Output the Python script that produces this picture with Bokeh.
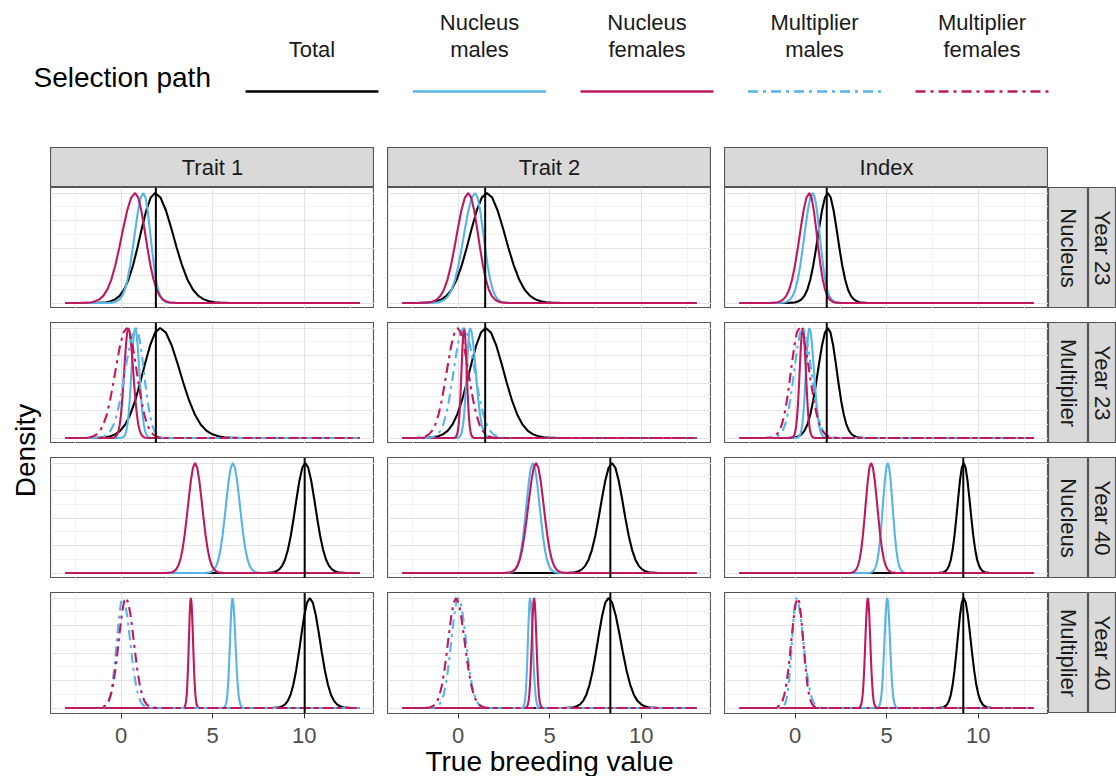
from bokeh.plotting import figure
from bokeh.layouts import row, column
from bokeh.models import FixedTicker, Span, Range1d, Spacer, Label
from bokeh.core.properties import value
from bokeh.embed import file_html
from bokeh.resources import INLINE
import math

# ---------------- data ----------------
TRAITS = ["Trait 1", "Trait 2", "Index"]
ROW_PATH = ["Nucleus", "Multiplier", "Nucleus", "Multiplier"]
ROW_YEAR = ["Year 23", "Year 23", "Year 40", "Year 40"]
PATHS = ["Total", "Nucleus males", "Nucleus females", "Multiplier males", "Multiplier females"]
XTICKS = [0, 5, 10]
XMINOR = [-2.5, 2.5, 7.5, 12.5]
YTICKS = [0, 0.25, 0.5, 0.75, 1.0]
YMINOR = [0.125, 0.375, 0.625, 0.875]
X_LO, X_HI = -3.05, 13.03          # range over which densities were evaluated

# scaled-density bell profile (offsets in half-widths at half maximum, heights)
PROFILE_U = [-3.5, -3.0, -2.75, -2.5, -2.25, -2.0, -1.75, -1.5, -1.25, -1.0, -0.75, -0.5, -0.25, 0.0,
             0.25, 0.5, 0.75, 1.0, 1.25, 1.5, 1.75, 2.0, 2.25, 2.5, 2.75, 3.0, 3.5]
PROFILE_Y = [0.0, 0.003, 0.007, 0.016, 0.033, 0.065, 0.121, 0.211, 0.339, 0.5, 0.677, 0.841, 0.958, 1.0,
             0.958, 0.841, 0.677, 0.5, 0.339, 0.211, 0.121, 0.065, 0.033, 0.016, 0.007, 0.003, 0.0]

# mean of total (vertical line), per year x trait
VLINE_Y23 = [1.90, 1.48, 1.73]
VLINE_Y40 = [10.02, 8.31, 9.18]

# peak position, left and right half-width; rows = panel rows, cols = traits
TOTAL_PEAK = [[1.86, 1.57, 1.79], [2.13, 1.51, 1.79], [10.05, 8.40, 9.20], [10.30, 8.21, 9.20]]
TOTAL_HWL = [[0.97, 1.10, 0.64], [1.09, 1.04, 0.64], [0.63, 0.73, 0.40], [0.60, 0.69, 0.40]]
TOTAL_HWR = [[1.18, 1.18, 0.63], [1.27, 1.15, 0.58], [0.65, 0.73, 0.42], [0.66, 0.79, 0.46]]

NUC_M_PEAK = [[1.22, 0.93, 0.97], [0.77, 0.66, 0.78], [6.10, 4.08, 5.06], [6.08, 3.93, 5.03]]
NUC_M_HWL = [[0.58, 0.73, 0.55], [0.24, 0.22, 0.22], [0.45, 0.42, 0.32], [0.16, 0.14, 0.18]]
NUC_M_HWR = [[0.46, 0.55, 0.45], [0.27, 0.36, 0.30], [0.46, 0.44, 0.31], [0.19, 0.17, 0.18]]

NUC_F_PEAK = [[0.77, 0.56, 0.78], [0.40, 0.33, 0.42], [4.04, 4.26, 4.15], [3.81, 4.15, 3.97]]
NUC_F_HWL = [[0.87, 0.76, 0.63], [0.27, 0.17, 0.20], [0.46, 0.51, 0.36], [0.13, 0.15, 0.16]]
NUC_F_HWR = [[0.67, 0.64, 0.49], [0.31, 0.17, 0.20], [0.46, 0.49, 0.40], [0.14, 0.15, 0.16]]

MULT_M_PEAK = [None, [0.82, 0.29, 0.42], None, [0.09, 0.02, 0.07]]
MULT_M_HWL = [None, [0.70, 0.63, 0.55], None, [0.38, 0.46, 0.28]]
MULT_M_HWR = [None, [0.50, 0.73, 0.55], None, [0.48, 0.49, 0.45]]

MULT_F_PEAK = [None, [0.31, -0.02, 0.24], None, [0.27, -0.11, 0.15]]
MULT_F_HWL = [None, [0.73, 0.70, 0.55], None, [0.47, 0.51, 0.42]]
MULT_F_HWR = [None, [0.64, 0.68, 0.63], None, [0.50, 0.55, 0.35]]

# ---------------- styles ----------------
FONT = "Liberation Sans"
BLUE = "#56B4E9"
MAGENTA = "#C0185E"
COLORS = ["#000000", BLUE, MAGENTA, BLUE, MAGENTA]
DASHES = ["solid", "solid", "solid", "10 5 3 5", "10 5 3 5"]
BORDER = "#555555"
STRIP_FILL = "#D9D9D9"

PW, PH = 324, 121       # panel frame size
HGAP, VGAP = 13, 14
STRIP_H = 40
LEFT_W = 50
RSTRIP_W, RSTRIP2_W = 40, 28
LEG_H = 147
XR = (-3.85, 13.83)
YR = (-0.05, 1.05)

SERIES = [
    (TOTAL_PEAK, TOTAL_HWL, TOTAL_HWR),
    (NUC_M_PEAK, NUC_M_HWL, NUC_M_HWR),
    (NUC_F_PEAK, NUC_F_HWL, NUC_F_HWR),
    (MULT_M_PEAK, MULT_M_HWL, MULT_M_HWR),
    (MULT_F_PEAK, MULT_F_HWL, MULT_F_HWR),
]


def curve_xy(peak, hwl, hwr):
    xs = [X_LO]
    ys = [0.0]
    for u, yv in zip(PROFILE_U, PROFILE_Y):
        xs.append(peak + u * (hwl if u < 0 else hwr))
        ys.append(yv)
    xs.append(X_HI)
    ys.append(0.0)
    return xs, ys


def bare(w, h, xr, yr):
    f = figure(frame_width=w, frame_height=h, x_range=Range1d(*xr), y_range=Range1d(*yr),
               output_backend="svg", toolbar_location=None, min_border=0, title=None,
               x_axis_location=None, y_axis_location=None)
    f.grid.visible = False
    f.outline_line_color = None
    return f


def make_panel(r, c):
    bottom = (r == 3)
    p = figure(frame_width=PW, frame_height=PH, x_range=Range1d(*XR), y_range=Range1d(*YR),
               output_backend="svg", toolbar_location=None, min_border=0, title=None,
               x_axis_location="below" if bottom else None, y_axis_location=None)
    if bottom and c != 1:
        p.min_border_bottom = 58
    p.outline_line_color = BORDER
    p.outline_line_width = 1.2
    p.xgrid[0].ticker = FixedTicker(ticks=XTICKS, minor_ticks=XMINOR)
    p.ygrid[0].ticker = FixedTicker(ticks=YTICKS, minor_ticks=YMINOR)
    for g in (p.xgrid[0], p.ygrid[0]):
        g.grid_line_color = "#E3E3E3"
        g.grid_line_width = 1.1
        g.minor_grid_line_color = "#F0F0F0"
        g.minor_grid_line_width = 0.8
    for k, (pk, hl, hr) in enumerate(SERIES):
        if pk[r] is None:
            continue
        xs, ys = curve_xy(pk[r][c], hl[r][c], hr[r][c])
        p.line(xs, ys, line_color=COLORS[k], line_width=2.1, line_dash=DASHES[k])
    vl = VLINE_Y23 if ROW_YEAR[r] == "Year 23" else VLINE_Y40
    p.add_layout(Span(location=vl[c], dimension="height", line_color="black", line_width=2))
    if bottom:
        ax = p.xaxis[0]
        ax.ticker = FixedTicker(ticks=XTICKS)
        ax.axis_line_color = None
        ax.major_tick_line_color = "#333333"
        ax.major_tick_out = 5
        ax.major_tick_in = 0
        ax.minor_tick_line_color = None
        ax.major_label_text_font = FONT
        ax.major_label_text_font_size = "22px"
        ax.major_label_text_color = "#4D4D4D"
        ax.major_label_standoff = 9
        if c == 1:
            ax.axis_label = "True breeding value"
            ax.axis_label_text_font = FONT
            ax.axis_label_text_font_size = "28px"
            ax.axis_label_text_font_style = "normal"
            ax.axis_label_text_color = "#000000"
            ax.axis_label_standoff = 0
    return p


def strip(text, w, h, angle=0.0):
    s = bare(w, h, (0, 1), (0, 1))
    s.background_fill_color = STRIP_FILL
    s.outline_line_color = BORDER
    s.outline_line_width = 1.2
    s.add_layout(Label(x=0.5, y=0.5, text=text, angle=angle, text_align="center", text_baseline="middle",
                       text_font=FONT, text_font_size="22px", text_color="#1A1A1A"))
    return s


# ---------------- legend ----------------
W_ALL = LEFT_W + 3 * PW + 2 * HGAP + RSTRIP_W + RSTRIP2_W
leg = bare(W_ALL, LEG_H, (0, W_ALL), (LEG_H, 0))
leg.text(x=[33], y=[77], text=["Selection path"], text_align="left", text_baseline="middle",
         text_font=value(FONT), text_font_size="28px", text_color="#000000")
KEY_X0 = 245
KEY_STEP = 167.5
KEY_LEN = 133
for k, name in enumerate(PATHS):
    x0 = KEY_X0 + k * KEY_STEP
    leg.line([x0, x0 + KEY_LEN], [91, 91], line_color=COLORS[k], line_width=2.6, line_dash=DASHES[k])
    lines = name.split()
    ys = [49 - 27 * (len(lines) - 1 - i) for i in range(len(lines))]
    leg.text(x=[x0 + KEY_LEN / 2] * len(lines), y=ys, text=lines, text_align="center",
             text_baseline="middle", text_font=value(FONT), text_font_size="22px", text_color="#1A1A1A")

# ---------------- y label ----------------
panels_h = 4 * PH + 3 * VGAP
ylab = bare(LEFT_W, STRIP_H + panels_h, (0, LEFT_W), (0, STRIP_H + panels_h))
ylab.text(x=[25], y=[panels_h / 2], text=["Density"], angle=math.pi / 2, text_align="center",
          text_baseline="middle", text_font=value(FONT), text_font_size="28px", text_color="#000000")

# ---------------- grid of panels ----------------
top_strips = row([strip(t, PW, STRIP_H) for t in TRAITS], spacing=HGAP)
panel_rows = [row([make_panel(r, c) for c in range(3)], spacing=HGAP) for r in range(4)]
main_col = column([top_strips, column(panel_rows, spacing=VGAP)], spacing=0)

right_rows = []
for r in range(4):
    inner = strip(ROW_PATH[r], RSTRIP_W, PH, angle=-math.pi / 2)
    outer = strip(ROW_YEAR[r], RSTRIP2_W, PH, angle=-math.pi / 2)
    right_rows.append(row([inner, outer], spacing=0))
right_col = column([Spacer(width=RSTRIP_W + RSTRIP2_W, height=STRIP_H), column(right_rows, spacing=VGAP)],
                   spacing=0)

layout = column([leg, row([ylab, main_col, right_col], spacing=0)], spacing=0)

open("out.html", "w").write(file_html(layout, INLINE))
